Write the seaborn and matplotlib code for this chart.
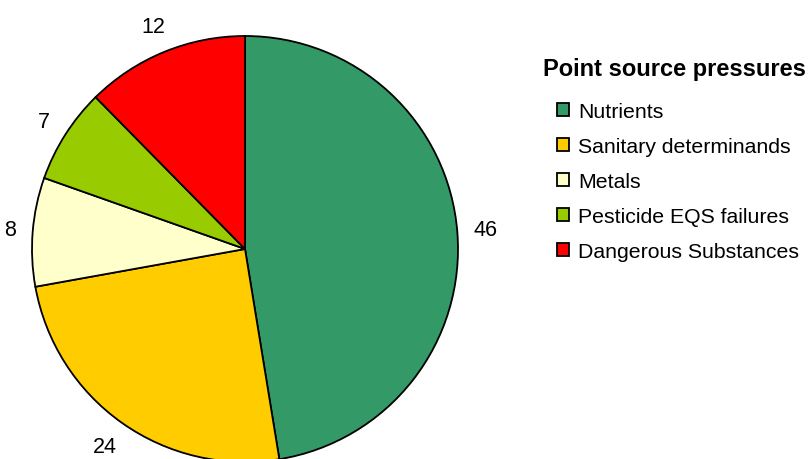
import numpy as np
import matplotlib
matplotlib.use("Agg")
import matplotlib.pyplot as plt
import seaborn as sns

categories = ["Nutrients", "Sanitary determinands", "Metals",
              "Pesticide EQS failures", "Dangerous Substances"]
values = [46, 24, 8, 7, 12]
colors = ["#339966", "#FFCC00", "#FFFFCC", "#99CC00", "#FF0000"]
legend_title = "Point source pressures"

sns.set_theme(style="white")
plt.rcParams["font.family"] = ["Liberation Sans", "DejaVu Sans"]
plt.rcParams["text.color"] = "black"

W, H = 810, 460
fig = plt.figure(figsize=(W / 100, H / 100), dpi=100)
fig.patch.set_facecolor("white")

cx, cy, R = 245, 250, 213
ax = fig.add_axes([(cx - R) / W, (H - cy - R) / H, 2 * R / W, 2 * R / H])
palette = sns.color_palette(colors)

label_fs = 15.5
wedges, texts = ax.pie(values, colors=palette, startangle=90, counterclock=False,
                       labels=[str(v) for v in values], labeldistance=1.1,
                       wedgeprops=dict(edgecolor="black", linewidth=1.3),
                       textprops=dict(fontsize=label_fs, color="black"))
ax.set_xlim(-1, 1)
ax.set_ylim(-1, 1)
ax.set_aspect("auto")
ax.axis("off")

em = label_fs * 100 / 72  # px
for w, t in zip(wedges, texts):
    mid = np.deg2rad((w.theta1 + w.theta2) / 2)
    c, s = np.cos(mid), np.sin(mid)
    tw = 0.556 * em * len(t.get_text())
    th = 0.74 * em
    d = 1.075 + (abs(c) * tw / 2 + abs(s) * th / 2) / R
    t.set_position((d * c, d * s))
    t.set_ha("center")
    t.set_va("center")
    t.set_clip_on(False)

fig.text(543 / W, 1 - 76 / H, legend_title, fontsize=17, fontweight="bold",
         color="black", ha="left", va="baseline")

leg = fig.legend(wedges, categories,
                 loc="upper left", bbox_to_anchor=(557 / W, 1 - 103 / H),
                 frameon=False, fontsize=15.3, handlelength=0.58, handleheight=0.58,
                 handletextpad=0.42, labelspacing=0.75, borderaxespad=0, borderpad=0)
for txt in leg.get_texts():
    txt.set_color("black")

fig.savefig("out.png", dpi=100)
